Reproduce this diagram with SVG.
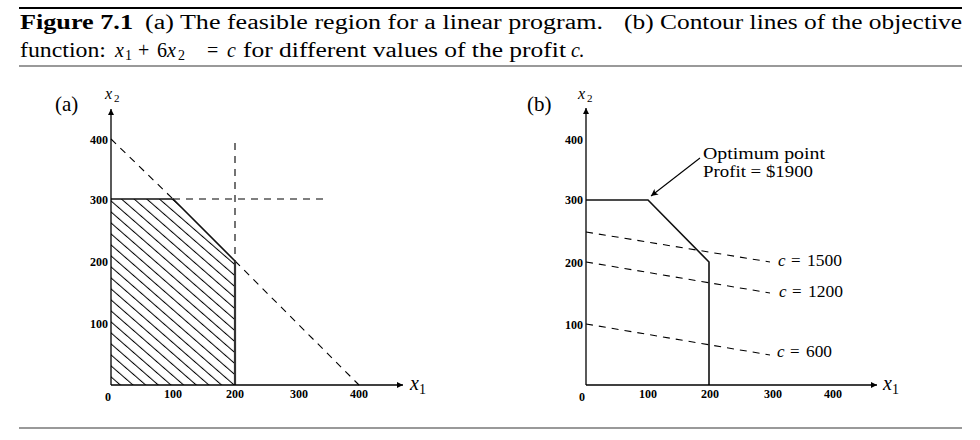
<svg xmlns="http://www.w3.org/2000/svg" width="980" height="440" viewBox="0 0 980 440">
<style>
text{font-family:"Liberation Serif","Times New Roman",serif;fill:#000}
.cap{font-size:20px}
.sub{font-size:14px}
.tick{font-size:12px;font-weight:bold}
.ax{stroke:#000;stroke-width:1.3;fill:none}
.solid{stroke:#111;stroke-width:1.6;fill:none}
.dash{stroke:#000;stroke-width:1.1;stroke-dasharray:7 6;fill:none}
.it{font-style:italic}
.lbl{font-size:17px}
.panel{font-size:21px}
</style>
<defs>
<pattern id="hatch" patternUnits="userSpaceOnUse" width="20" height="8.3" patternTransform="rotate(41)">
<line x1="0" y1="4.1" x2="20" y2="4.1" stroke="#000" stroke-width="1"/>
</pattern>
<marker id="ah" viewBox="0 0 10 10" refX="10" refY="5" markerWidth="8" markerHeight="6" markerUnits="userSpaceOnUse" orient="auto">
<path d="M0,0 L10,5 L0,10 Z" fill="#000"/>
</marker>
<marker id="ah2" viewBox="0 0 10 10" refX="10" refY="5" markerWidth="9" markerHeight="7" markerUnits="userSpaceOnUse" orient="auto">
<path d="M0,0 L10,5 L0,10 L2.5,5 Z" fill="#000"/>
</marker>
</defs>

<g id="caption">
<line x1="19" y1="8" x2="962" y2="8" stroke="#000" stroke-width="2"/>
<text class="cap" x="20" y="29" font-weight="bold" textLength="113" lengthAdjust="spacingAndGlyphs">Figure 7.1</text>
<text class="cap" x="145" y="29" textLength="458" lengthAdjust="spacingAndGlyphs">(a) The feasible region for a linear program.</text>
<text class="cap" x="624" y="29" textLength="338" lengthAdjust="spacingAndGlyphs">(b) Contour lines of the objective</text>
<text class="cap" x="20" y="57" textLength="86" lengthAdjust="spacingAndGlyphs">function:</text>
<text class="cap it" x="115" y="57">x</text>
<text class="sub" x="125" y="60">1</text>
<text class="cap" x="138" y="57">+</text>
<text class="cap" x="157" y="57">6</text>
<text class="cap it" x="167" y="57">x</text>
<text class="sub" x="178" y="60">2</text>
<text class="cap" x="207" y="57">=</text>
<text class="cap it" x="227" y="57">c</text>
<text class="cap" x="243" y="57" textLength="323" lengthAdjust="spacingAndGlyphs">for different values of the profit</text>
<text class="cap it" x="571" y="57">c</text>
<text class="cap" x="579" y="57">.</text>
<line x1="19" y1="66" x2="962" y2="66" stroke="#777" stroke-width="1.6"/>
</g>

<g id="panel-a">
<text class="panel" x="55" y="111">(a)</text>
<polygon points="111,385 111,199 173,199 235,261 235,385" fill="url(#hatch)" stroke="none"/>
<g id="a-lines">
<line class="dash" x1="111" y1="139" x2="173" y2="199"/>
<line class="dash" x1="235" y1="261" x2="359" y2="385"/>
<line class="dash" x1="173" y1="199" x2="328" y2="199"/>
<line class="dash" x1="235" y1="143" x2="235" y2="261"/>
<polyline class="solid" points="111,199 173,199 235,261"/>
<line x1="235" y1="261" x2="235" y2="385" stroke="#333" stroke-width="2.2"/>
</g>
<line class="ax" x1="111" y1="385" x2="111" y2="109" marker-end="url(#ah)"/>
<line class="ax" x1="111" y1="385" x2="403" y2="385" marker-end="url(#ah)"/>
<text class="it" font-size="16" x="105" y="99">x</text>
<text font-size="11" x="114" y="102">2</text>
<text class="it" font-size="20" x="410" y="390">x</text>
<text font-size="14" x="419" y="394">1</text>
<text class="tick" x="108" y="144" text-anchor="end">400</text>
<text class="tick" x="108" y="204" text-anchor="end">300</text>
<text class="tick" x="108" y="266" text-anchor="end">200</text>
<text class="tick" x="108" y="328" text-anchor="end">100</text>
<text class="tick" x="108" y="401" text-anchor="middle">0</text>
<text class="tick" x="173" y="398" text-anchor="middle">100</text>
<text class="tick" x="235" y="398" text-anchor="middle">200</text>
<text class="tick" x="299" y="398" text-anchor="middle">300</text>
<text class="tick" x="359" y="398" text-anchor="middle">400</text>
</g>

<g id="panel-b">
<text class="panel" x="527" y="111">(b)</text>
<g id="b-lines">
<polyline class="solid" points="586,200 648,200 709,262 709,385"/>
<line class="dash" x1="586" y1="232" x2="770" y2="262"/>
<line class="dash" x1="586" y1="262" x2="770" y2="293"/>
<line class="dash" x1="586" y1="324" x2="770" y2="355"/>
<line stroke="#000" stroke-width="1.1" x1="700" y1="158" x2="651" y2="196" marker-end="url(#ah2)"/>
</g>
<line class="ax" x1="586" y1="385" x2="586" y2="108" marker-end="url(#ah)"/>
<line class="ax" x1="586" y1="385" x2="877" y2="385" marker-end="url(#ah)"/>
<text class="it" font-size="16" x="578" y="99">x</text>
<text font-size="11" x="587" y="102">2</text>
<text class="it" font-size="20" x="883" y="390">x</text>
<text font-size="14" x="892" y="394">1</text>
<text class="lbl" x="703" y="159" textLength="122" lengthAdjust="spacingAndGlyphs">Optimum point</text>
<text class="lbl" x="703" y="177" textLength="110" lengthAdjust="spacingAndGlyphs">Profit = $1900</text>
<text class="lbl it" x="778" y="266">c</text><text class="lbl" x="791" y="266">=</text><text class="lbl" x="807" y="266" textLength="35" lengthAdjust="spacingAndGlyphs">1500</text>
<text class="lbl it" x="779" y="297">c</text><text class="lbl" x="792" y="297">=</text><text class="lbl" x="808" y="297" textLength="35" lengthAdjust="spacingAndGlyphs">1200</text>
<text class="lbl it" x="777" y="357">c</text><text class="lbl" x="790" y="357">=</text><text class="lbl" x="806" y="357" textLength="26" lengthAdjust="spacingAndGlyphs">600</text>
<text class="tick" x="583" y="144" text-anchor="end">400</text>
<text class="tick" x="583" y="204" text-anchor="end">300</text>
<text class="tick" x="583" y="267" text-anchor="end">200</text>
<text class="tick" x="583" y="329" text-anchor="end">100</text>
<text class="tick" x="582" y="401" text-anchor="middle">0</text>
<text class="tick" x="648" y="398" text-anchor="middle">100</text>
<text class="tick" x="710" y="398" text-anchor="middle">200</text>
<text class="tick" x="773" y="398" text-anchor="middle">300</text>
<text class="tick" x="833" y="398" text-anchor="middle">400</text>
</g>

<line x1="19" y1="428" x2="962" y2="428" stroke="#777" stroke-width="1.6"/>
</svg>
